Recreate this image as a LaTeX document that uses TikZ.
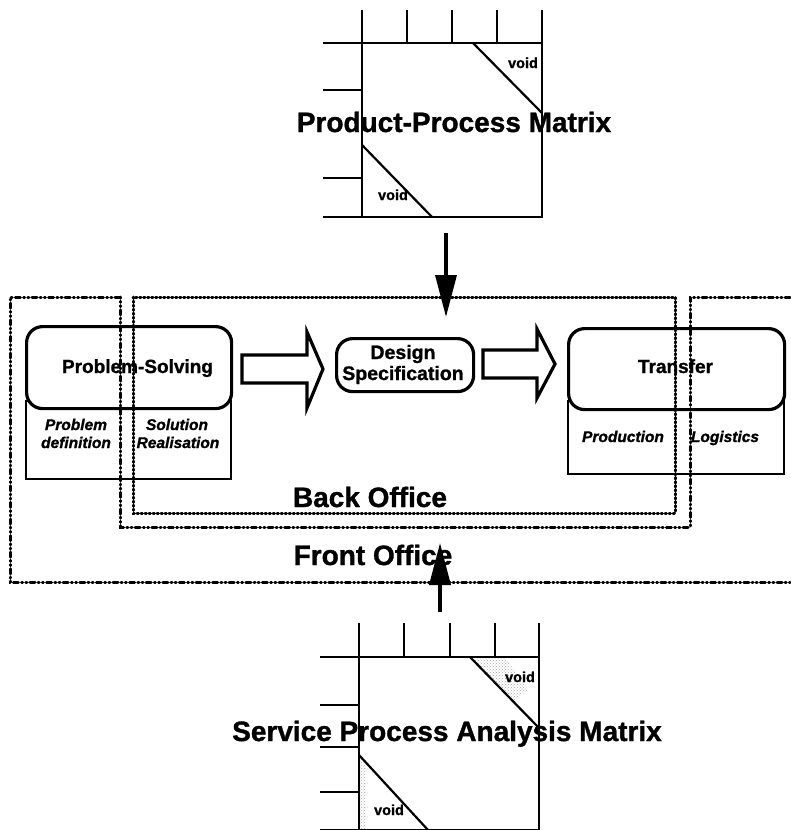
\documentclass[tikz,border=0pt]{standalone}
\usepackage{fontspec}
\setmainfont{Liberation Sans}
\newfontfamily\heavyfont[FakeBold=1.2]{Liberation Sans Bold}
\newfontfamily\heavyitfont[FakeBold=1.2]{Liberation Sans Bold Italic}
\usetikzlibrary{arrows.meta,patterns}
\begin{document}
\begin{tikzpicture}[x=1pt,y=-1pt,
  mline/.style={line width=2.6pt},
  thinline/.style={line width=2.2pt},
  rbox/.style={draw,line width=3.2pt,rounded corners=16pt,fill=white},
  lbox/.style={draw,line width=1.6pt,fill=white},
  hollow/.style={draw,line width=3.2pt,fill=white,line join=miter},
  fdot/.style={line width=3pt,line cap=round,dash pattern=on 1.4pt off 2.6pt},
  ddot/.style={line width=3pt,line cap=round,dash pattern=on 5pt off 3.2pt on 1pt off 3.2pt on 1pt off 3.2pt},
  title/.style={font=\heavyfont\fontsize{28}{28}\selectfont,inner sep=0pt,anchor=base},
  boxtxt/.style={font=\heavyfont\fontsize{19}{21}\selectfont,inner sep=0pt,anchor=base},
  subtxt/.style={font=\heavyitfont\fontsize{15.5}{18}\selectfont,inner sep=0pt,anchor=base},
  voidtxt/.style={font=\heavyfont\fontsize{14.5}{15}\selectfont,inner sep=0pt,anchor=base},
  bigarrow/.style={line width=3.5pt,-{Triangle[length=42pt,width=21pt]}},
  stip/.style={pattern=crosshatch dots,pattern color=gray!70}
]
\useasboundingbox (0,0) rectangle (790,830);

% ---------- top matrix ----------
\coordinate (tmNW) at (362,43);
\coordinate (tmSE) at (542,217);
\draw[mline] (tmNW) rectangle (tmSE);
\foreach \x in {362,407,452,497,542} \draw[thinline] (\x,10) -- (\x,43);
\foreach \y in {43,90,178,217} \draw[thinline] (323,\y) -- (362,\y);
\draw[thinline] (473,43) -- (542,113);
\draw[thinline] (362,145) -- (432,217);
\node[voidtxt] (tv1) at (523,68) {void};
\node[voidtxt] (tv2) at (393,200) {void};
\node[title] (ppm) at (454,132) {Product-Process Matrix};

% ---------- bottom matrix ----------
\fill[stip] (470,657) -- (505,657) -- (528,690) -- (515,700) -- cycle;
\fill[stip] (359,755) -- (366,762) -- (366,830) -- (359,830) -- cycle;
\draw[mline] (359,657) rectangle (539,830);
\foreach \x in {359,404,450,495,539} \draw[thinline] (\x,623) -- (\x,657);
\foreach \y in {657,705,747,792,830} \draw[thinline] (320,\y) -- (359,\y);
\draw[thinline] (470,657) -- (539,728);
\draw[thinline] (359,755) -- (428,830);
\node[voidtxt] (bv1) at (520,682) {void};
\node[voidtxt] (bv2) at (389,815) {void};
\node[title] (spam) at (447,741) {Service Process Analysis Matrix};

% ---------- process boxes ----------
\node[lbox,minimum width=205pt,minimum height=78pt,anchor=north west] (psl) at (25,400) {};
\node[rbox,minimum width=205pt,minimum height=82pt,anchor=north west] (ps) at (25,325) {};
\node[rbox,minimum width=137pt,minimum height=53pt,anchor=north west] (ds) at (335,337) {};
\node[lbox,minimum width=216pt,minimum height=73pt,anchor=north west] (trl) at (567,400) {};
\node[rbox,minimum width=216pt,minimum height=81pt,anchor=north west] (tr) at (567,327) {};

% hollow arrows
\draw[hollow] (242,355) -- (307,355) -- (307,332) -- (323,369) -- (307,408) -- (307,383) -- (242,383) -- cycle;
\draw[hollow] (483,350) -- (537,350) -- (537,329) -- (555,364) -- (537,398) -- (537,378) -- (483,378) -- cycle;

% ---------- office boundaries ----------
\draw[fdot] (133,297) rectangle (675,513);
\draw[ddot] (120,297) -- (10,297) -- (10,582) -- (790,582);
\draw[ddot] (790,297) -- (690,297) -- (690,527) -- (120,527) -- (120,297);

% ---------- texts ----------
\node[boxtxt] (pst) at (137.5,373) {Problem-Solving};
\node[boxtxt] (trt) at (675.5,373) {Transfer};
\node[boxtxt,font=\heavyfont\fontsize{19.5}{21}\selectfont] (dst1) at (403,359) {Design};
\node[boxtxt,font=\heavyfont\fontsize{19.5}{21}\selectfont] (dst2) at (403,380) {Specification};
\node[subtxt] (pd1) at (76,430) {Problem};
\node[subtxt] (pd2) at (76,448) {definition};
\node[subtxt] (sr1) at (177,430) {Solution};
\node[subtxt] (sr2) at (178,448) {Realisation};
\node[subtxt] (prod) at (623,442) {Production};
\node[subtxt] (logi) at (725,442) {Logistics};
\node[title] (bo) at (370,507) {Back Office};
\node[title] (fo) at (373,565) {Front Office};

% ---------- vertical arrows ----------
\coordinate (a1s) at (446,233);
\coordinate (a1e) at (446,317);
\draw[bigarrow] (a1s) -- (a1e);
\coordinate (a2s) at (440,612);
\coordinate (a2e) at (440,543);
\draw[bigarrow] (a2s) -- (a2e);
\end{tikzpicture}
\end{document}
